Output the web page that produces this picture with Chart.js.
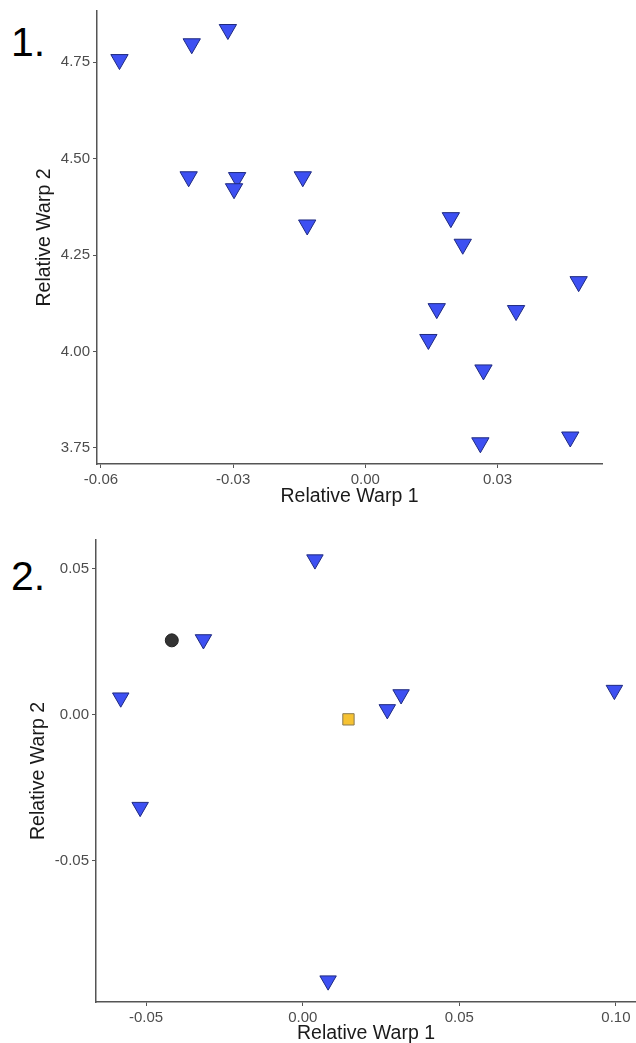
<!DOCTYPE html>
<html>
<head>
<meta charset="utf-8">
<script src="https://cdn.jsdelivr.net/npm/chart.js@4/dist/chart.umd.min.js"></script>
<style>
  body { margin: 0; background: #fff; width: 636px; height: 1043px; position: relative; overflow: hidden; }
  canvas { position: absolute; }
  #top-chart { left: 0; top: 0; }
  #bottom-chart { left: 0; top: 520px; }
  .panel-tag { position: absolute; left: 11px; font: 41px/41px "Liberation Sans", Arial, sans-serif; color: #000; }
</style>
</head>
<body>
<div class="panel-tag" style="top:22px">1.</div>
<div class="panel-tag" style="top:556px">2.</div>
<canvas id="top-chart" width="620" height="506"></canvas>
<canvas id="bottom-chart" width="636" height="523"></canvas>
<script>
// panel 1 values
const topWarp1 = [-0.0558, -0.0394, -0.0312, -0.0401, -0.0291, -0.0298, -0.0142, -0.0132,
                  0.0194, 0.0221, 0.0484, 0.0162, 0.0342, 0.0143, 0.0268, 0.0261, 0.0465];
const topWarp2 = [4.757, 4.798, 4.835, 4.453, 4.451, 4.422, 4.453, 4.328,
                  4.347, 4.278, 4.181, 4.111, 4.106, 4.031, 3.952, 3.763, 3.778];
const topXTicks = [-0.06, -0.03, 0.00, 0.03];
const topYTicks = [3.75, 4.00, 4.25, 4.50, 4.75];

// panel 2 values
const triWarp1 = [0.0039, -0.0317, -0.0581, -0.0519, 0.0314, 0.0270, 0.0995, 0.0081];
const triWarp2 = [0.0530, 0.0257, 0.0058, -0.0316, 0.0069, 0.0018, 0.0084, -0.0909];
const circleWarp1 = [-0.0418];
const circleWarp2 = [0.0254];
const squareWarp1 = [0.0146];
const squareWarp2 = [-0.0016];
const bottomXTicks = [-0.05, 0.00, 0.05, 0.10];
const bottomYTicks = [-0.05, 0.00, 0.05];

const fontFamily = '"Liberation Sans", Arial, sans-serif';
const blue = '#3d50f2';
const blueEdge = '#1f2a80';

function toPoints(xs, ys) {
    return xs.map((x, i) => ({ x: x, y: ys[i] }));
}

function axis(title, min, max, tickValues, fitSize, isX) {
    return {
        type: 'linear',
        min: min,
        max: max,
        afterBuildTicks: scale => {
            scale.ticks = tickValues.map(v => ({ value: v }));
        },
        afterFit: scale => {
            if (isX) scale.height = fitSize; else scale.width = fitSize;
            scale.paddingLeft = 0;
            scale.paddingRight = 0;
            scale.paddingTop = 0;
            scale.paddingBottom = 0;
        },
        ticks: {
            callback: v => Number(v).toFixed(2),
            color: '#4d4d4d',
            font: { family: fontFamily, size: 15 },
            padding: 3,
            autoSkip: false,
            maxRotation: 0
        },
        grid: {
            display: true,
            drawOnChartArea: false,
            drawTicks: true,
            tickLength: 4,
            color: '#555'
        },
        border: { display: true, color: '#555', width: 1.5 },
        title: {
            display: true,
            text: title,
            color: '#1a1a1a',
            font: { family: fontFamily, size: 19.5, lineHeight: 1 },
            padding: 0
        }
    };
}

function baseOptions(scales, padding) {
    return {
        responsive: false,
        animation: false,
        layout: { padding: padding, autoPadding: false },
        plugins: { legend: { display: false }, tooltip: { enabled: false } },
        scales: scales
    };
}

// panel 1
new Chart(document.getElementById('top-chart'), {
    type: 'scatter',
    data: {
        datasets: [{
            data: toPoints(topWarp1, topWarp2),
            pointStyle: 'triangle',
            rotation: 180,
            pointRadius: 10,
            backgroundColor: blue,
            borderColor: blueEdge,
            borderWidth: 1,
            clip: false
        }]
    },
    options: baseOptions({
        x: axis('Relative Warp 1', -0.0609, 0.0537, topXTicks, 42, true),
        y: axis('Relative Warp 2', 3.708, 4.883, topYTicks, 62, false)
    }, { left: 35, top: 11, right: 18, bottom: 0 })
});

// panel 2
new Chart(document.getElementById('bottom-chart'), {
    type: 'scatter',
    data: {
        datasets: [
            {
                data: toPoints(triWarp1, triWarp2),
                pointStyle: 'triangle',
                rotation: 180,
                pointRadius: 9.5,
                backgroundColor: blue,
                borderColor: blueEdge,
                borderWidth: 1,
                clip: false
            },
            {
                data: toPoints(circleWarp1, circleWarp2),
                pointStyle: 'circle',
                pointRadius: 6.5,
                backgroundColor: '#333333',
                borderColor: '#222222',
                borderWidth: 1,
                clip: false
            },
            {
                data: toPoints(squareWarp1, squareWarp2),
                pointStyle: 'rect',
                pointRadius: 8,
                backgroundColor: '#f6c232',
                borderColor: '#8a7a50',
                borderWidth: 1,
                clip: false
            }
        ]
    },
    options: baseOptions({
        x: axis('Relative Warp 1', -0.066, 0.1064, bottomXTicks, 41, true),
        y: axis('Relative Warp 2', -0.0982, 0.0597, bottomYTicks, 67, false)
    }, { left: 29, top: 20, right: 0, bottom: 0 })
});
</script>
</body>
</html>
